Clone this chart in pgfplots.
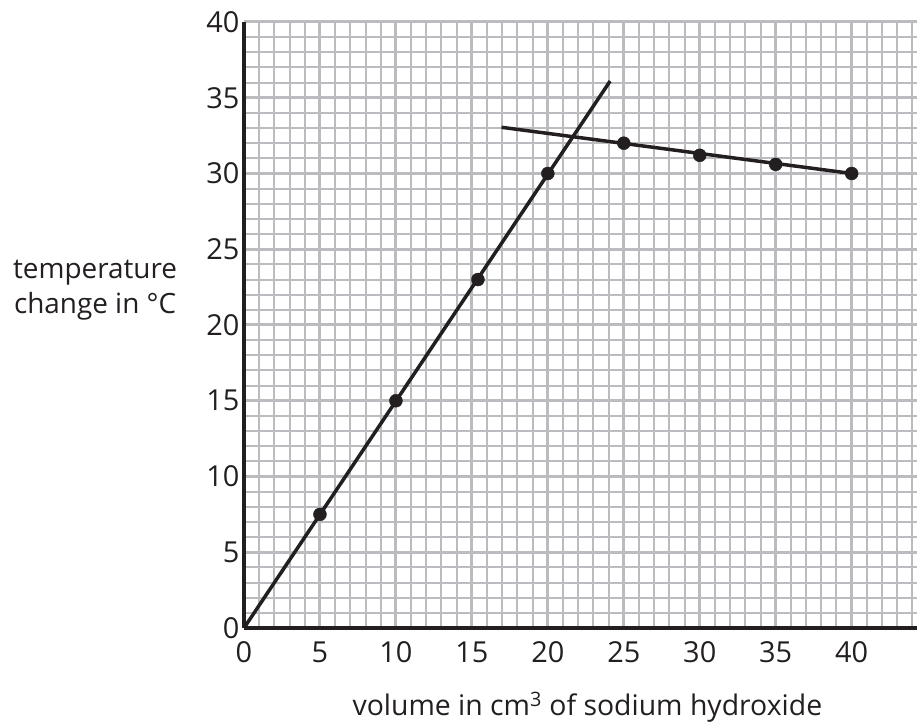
\documentclass[border=0pt]{standalone}
\usepackage{pgfplots}
\pgfplotsset{compat=1.18}
\usepackage{fontspec}
\setmainfont{Open Sans}
\definecolor{gridgray}{RGB}{188,188,192}
\definecolor{ink}{RGB}{35,31,32}

\begin{document}
\begin{tikzpicture}
\begin{axis}[
  scale only axis, width=673bp, height=606bp,
  xmin=0, xmax=44.3, ymin=0, ymax=40,
  axis x line=bottom, axis y line=left,
  axis line style={-, line width=4bp, ink},
  xtick={0,5,...,40}, ytick={0,5,...,40},
  minor xtick={1,...,44}, minor ytick={1,...,39},
  grid=both,
  major grid style={gridgray, line width=3bp},
  minor grid style={gridgray, line width=2bp},
  major tick length=0pt, minor tick length=0pt,
  tick style={draw=none},
  /pgf/number format/assume math mode=true,
  xticklabel={\pgfmathprintnumber{\tick}},
  yticklabel={\pgfmathprintnumber{\tick}},
  tick label style={font=\fontsize{29}{32}\selectfont, text=ink},
  xticklabel style={yshift=-10bp},
  yticklabel style={xshift=-1bp},
  clip=false,
]
% straight line through the rising points
\addplot[ink, line width=3.5bp] coordinates {(0,0) (24.1,36.1)};
% line through the falling points
\addplot[ink, line width=3.5bp] coordinates {(16.95,33.05) (40,30)};
% measured points
\addplot[only marks, mark=*, mark size=6.5bp, ink] coordinates {
  (5,7.5) (10,15) (15.4,23) (20,30)
  (25,32) (30,31.2) (35,30.6) (40,30)
};
\node[align=center, text=ink, font=\fontsize{28}{36}\selectfont]
  at (axis cs:-9.8,22.3) {temperature\\change in °C};
\node[text=ink, font=\fontsize{28.5}{32}\selectfont]
  at (axis cs:22.6,-5.2) {volume in cm\textsuperscript{3} of sodium hydroxide};
\end{axis}
\pgfresetboundingbox
\path[use as bounding box] (-244bp,-98bp) rectangle (673bp,628bp);
\end{tikzpicture}
\end{document}
